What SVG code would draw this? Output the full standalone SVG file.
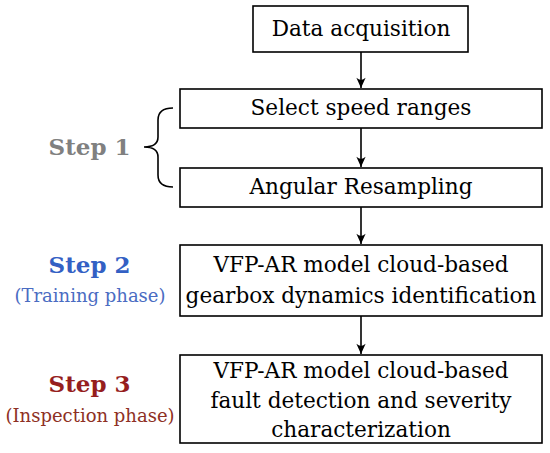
<svg xmlns="http://www.w3.org/2000/svg" width="550" height="453" viewBox="0 0 550 453">
<defs>
<style>
.box{fill:#fff;stroke:#000;stroke-width:1.6}
.t{font-size:21.6px;fill:#000;text-anchor:middle}
.lb{font-size:23px;font-weight:bold;text-anchor:middle}
.sub{font-size:18px;text-anchor:middle}
.edge{stroke:#000;stroke-width:1.6;fill:none}
</style>
<marker id="arr" markerWidth="12" markerHeight="12" viewBox="-12 -6 13 12" refX="0" refY="0" orient="auto" markerUnits="userSpaceOnUse" overflow="visible">
<path d="M0,0 L-11,-5 Q-6.5,0 -11,5 Z" fill="#000"/>
</marker>
</defs>
<rect width="550" height="453" fill="#fff"/>
<g id="connectors">
<line class="edge" x1="361" y1="52" x2="361" y2="88" marker-end="url(#arr)"/>
<line class="edge" x1="361" y1="128" x2="361" y2="167" marker-end="url(#arr)"/>
<line class="edge" x1="361" y1="207" x2="361" y2="244" marker-end="url(#arr)"/>
<line class="edge" x1="361" y1="316" x2="361" y2="354" marker-end="url(#arr)"/>
</g>
<g id="n1" font-family="DejaVu Serif">
<rect class="box" x="253" y="6" width="215" height="46"/>
<text class="t" x="361" y="36">Data acquisition</text>
</g>
<g id="n2" font-family="DejaVu Serif">
<rect class="box" x="180" y="89" width="362" height="39"/>
<text class="t" x="361" y="115">Select speed ranges</text>
</g>
<g id="n3" font-family="DejaVu Serif">
<rect class="box" x="180" y="168" width="362" height="39"/>
<text class="t" x="361" y="194">Angular Resampling</text>
</g>
<g id="n4" font-family="DejaVu Serif">
<rect class="box" x="180" y="245" width="362" height="71"/>
<text class="t" x="361" y="272">VFP-AR model cloud-based</text>
<text class="t" x="361" y="303">gearbox dynamics identification</text>
</g>
<g id="n5" font-family="DejaVu Serif">
<rect class="box" x="180" y="355" width="362" height="88"/>
<text class="t" x="361" y="378">VFP-AR model cloud-based</text>
<text class="t" x="361" y="408">fault detection and severity</text>
<text class="t" x="361" y="437">characterization</text>
</g>
<g id="step1" font-family="DejaVu Serif">
<text class="lb" x="89.5" y="155" fill="#808080">Step 1</text>
<path class="edge" d="M173,108 Q158,108 158,120 L158,137 Q158,147 144,147 Q158,147 158,157 L158,175 Q158,187 173,187"/>
</g>
<g id="step2" font-family="DejaVu Serif">
<text class="lb" x="89.5" y="273" fill="#3360c4">Step 2</text>
<text class="sub" x="90" y="302" fill="#4a6cc2">(Training phase)</text>
</g>
<g id="step3" font-family="DejaVu Serif">
<text class="lb" x="89.5" y="392" fill="#961e1e">Step 3</text>
<text class="sub" x="90" y="422" fill="#8e3024">(Inspection phase)</text>
</g>
</svg>
